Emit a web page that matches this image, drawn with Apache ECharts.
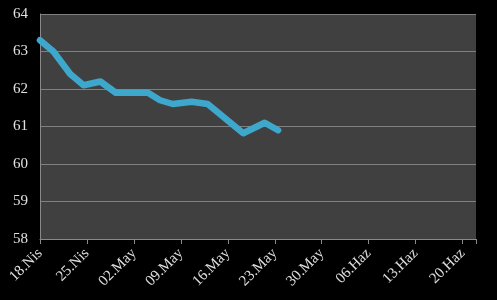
<!DOCTYPE html>
<html><head><meta charset="utf-8">
<script src="https://cdn.jsdelivr.net/npm/echarts@6/dist/echarts.min.js"></script>
<style>html,body{margin:0;padding:0;background:#000;}#c{width:497px;height:300px;}</style>
</head><body><div id="c"></div>
<script>
// days since 18.Nis
var dayOffsets = [0, 2, 4.5, 6.5, 9, 11.3, 16.1, 17.9, 19.8, 22.6, 25, 30.3, 33.5, 35.5];
var values = [63.3, 63.0, 62.4, 62.1, 62.2, 61.9, 61.9, 61.7, 61.6, 61.66, 61.6, 60.82, 61.1, 60.9];
var tickLabels = ['18.Nis','25.Nis','02.May','09.May','16.May','23.May','30.May','06.Haz','13.Haz','20.Haz'];

var data = dayOffsets.map(function(d, i){ return [d, values[i]]; });
var chart = echarts.init(document.getElementById('c'));
var font = '"Liberation Serif", "DejaVu Serif", serif';
chart.setOption({
  backgroundColor: '#000',
  animation: false,
  grid: {left: 40, top: 14, right: 21, bottom: 61, show: true, backgroundColor: '#404040', borderWidth: 0},
  xAxis: {
    type: 'value', min: 0, max: 65, interval: 7,
    axisLine: {show: true, lineStyle: {color: '#8a8a8a', width: 1}},
    axisTick: {show: true, length: 5, lineStyle: {color: '#8a8a8a'}},
    splitLine: {show: false},
    axisLabel: {
      rotate: 45, color: '#e0e0e0', fontFamily: font, fontSize: 15, margin: 12,
      padding: [0, 0, 0, 0],
      formatter: function(v){ var i = Math.round(v/7); return (v % 7 === 0 && tickLabels[i]) ? tickLabels[i] : ''; }
    }
  },
  yAxis: {
    type: 'value', min: 58, max: 64, interval: 1,
    axisLine: {show: true, lineStyle: {color: '#8a8a8a', width: 1}},
    axisTick: {show: false},
    splitLine: {show: true, lineStyle: {color: '#808080', width: 1}},
    axisLabel: {color: '#e0e0e0', fontFamily: font, fontSize: 15, margin: 12}
  },
  series: [{
    type: 'line', data: data, showSymbol: false, symbol: 'none',
    lineStyle: {color: '#3ea8cc', width: 6.5, join: 'round', cap: 'round'}
  }]
});
</script></body></html>
